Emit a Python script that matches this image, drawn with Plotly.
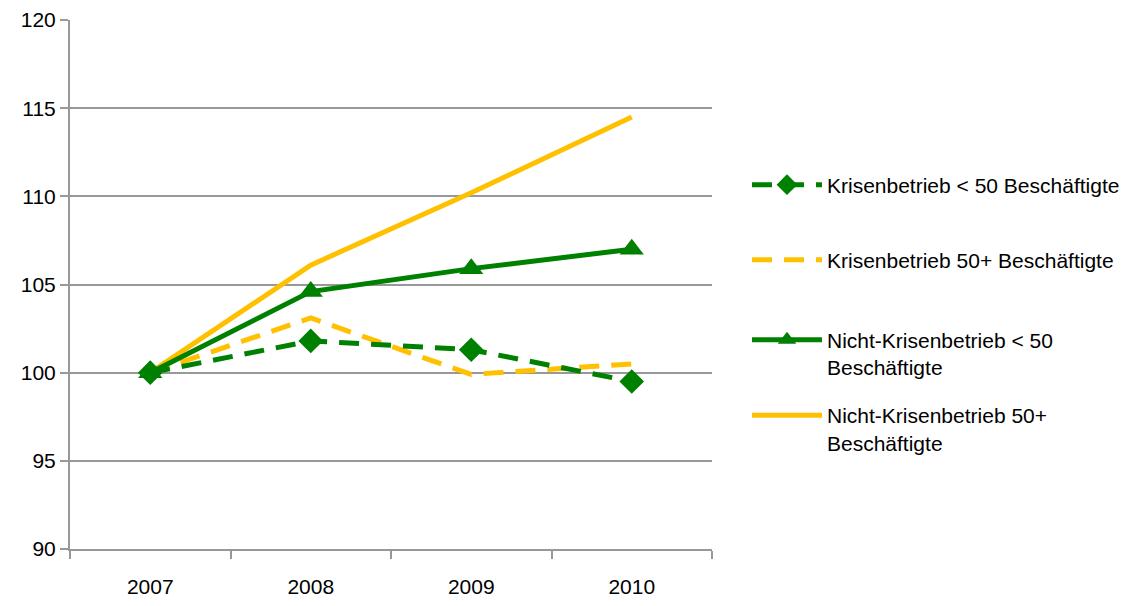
import plotly.graph_objects as go

years = ["2007", "2008", "2009", "2010"]
krisen_klein = [100.0, 101.8, 101.3, 99.5]
krisen_gross = [100.0, 103.1, 99.9, 100.5]
nicht_krisen_klein = [100.0, 104.6, 105.9, 107.0]
nicht_krisen_gross = [100.0, 106.1, 110.2, 114.5]
y_ticks = [90, 95, 100, 105, 110, 115, 120]

names = [
    "Krisenbetrieb < 50 Beschäftigte",
    "Krisenbetrieb 50+ Beschäftigte",
    "Nicht-Krisenbetrieb < 50<br>Beschäftigte",
    "Nicht-Krisenbetrieb 50+<br>Beschäftigte",
]

GREEN = "#008000"
YELLOW = "#FFC000"
FONT = "Liberation Sans, Arial, sans-serif"
GRID = "#989898"

fig = go.Figure()
fig.add_trace(go.Scatter(x=years, y=nicht_krisen_gross, name=names[3], mode="lines",
                         line=dict(color=YELLOW, width=5), legend="legend4"))
fig.add_trace(go.Scatter(x=years, y=krisen_gross, name=names[1], mode="lines",
                         line=dict(color=YELLOW, width=5, dash="20px,12px"), legend="legend2"))
fig.add_trace(go.Scatter(x=years, y=krisen_klein, name=names[0], mode="lines+markers",
                         line=dict(color=GREEN, width=5, dash="20px,12px"),
                         marker=dict(symbol="diamond", size=19, color=GREEN), legend="legend"))
fig.add_trace(go.Scatter(x=years, y=nicht_krisen_klein, name=names[2], mode="lines+markers",
                         line=dict(color=GREEN, width=5),
                         marker=dict(symbol="triangle-up", size=21, color=GREEN), legend="legend3"))

def leg(y, valign="middle"):
    return dict(x=1.0545, y=y, xanchor="left", yanchor="middle", valign=valign,
                bgcolor="rgba(0,0,0,0)", borderwidth=0, itemwidth=70,
                font=dict(family=FONT, size=21, color="#000000"))

fig.update_layout(
    width=1126, height=598,
    margin=dict(l=62, r=422, t=12, b=57, autoexpand=False),
    plot_bgcolor="white", paper_bgcolor="white",
    font=dict(family=FONT, size=21, color="#000000"),
    showlegend=True,
    legend=leg(0.688),
    legend2=leg(0.546),
    legend3=leg(0.3696, "top"),
    legend4=leg(0.2268, "top"),
    xaxis=dict(type="category", range=[-0.5, 3.5], showgrid=False, showline=True,
               linecolor=GRID, linewidth=2, ticks="outside", tickson="boundaries",
               ticklen=8, tickwidth=2, tickcolor=GRID, ticklabelstandoff=18,
               tickfont=dict(family=FONT, size=21), zeroline=False, automargin=False),
    yaxis=dict(range=[90, 120], tickvals=y_ticks, showgrid=True, gridcolor=GRID, gridwidth=2,
               showline=True, linecolor=GRID, linewidth=2, ticks="outside", ticklen=8,
               tickwidth=2, tickcolor=GRID, zeroline=False, automargin=False,
               tickfont=dict(family=FONT, size=21)),
)

fig.write_html("out.html")
